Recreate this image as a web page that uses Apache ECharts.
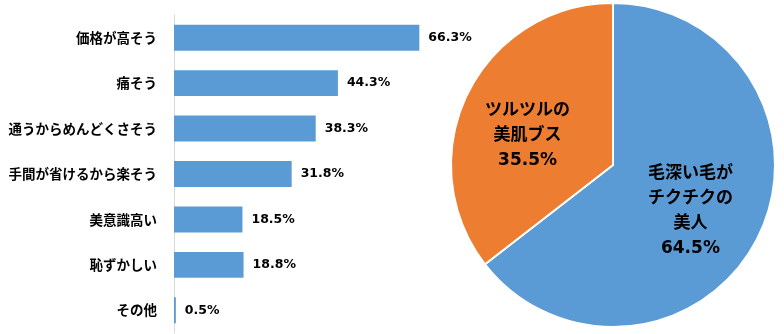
<!DOCTYPE html>
<html><head><meta charset="utf-8">
<script src="https://cdn.jsdelivr.net/npm/echarts@6/dist/echarts.min.js"></script>
<style>html,body{margin:0;padding:0;background:#fff}#c{width:784px;height:334px}</style>
</head><body><div id="c"></div>
<script>
const barCategories = ['価格が高そう','痛そう','通うからめんどくさそう','手間が省けるから楽そう','美意識高い','恥ずかしい','その他'];
const barValues = [66.3, 44.3, 38.3, 31.8, 18.5, 18.8, 0.5];
const pieNames = ['毛深い毛が\nチクチクの\n美人', 'ツルツルの\n美肌ブス'];
const pieValues = [64.5, 35.5];
const pieColors = ['#5b9bd5', '#ed7d31'];
const pieLabelOffsets = [[2, 9], [-10, 8]];

const chart = echarts.init(document.getElementById('c'));
chart.setOption({
  animation: false,
  grid: {left: 174, top: 15, width: 259, height: 318},
  xAxis: {type: 'value', min: 0, max: 70, show: false},
  yAxis: {
    type: 'category', data: barCategories, inverse: true,
    axisLine: {show: true, lineStyle: {color: '#d9d9d9', width: 1}},
    axisTick: {show: false},
    axisLabel: {margin: 17, color: '#000', fontSize: 13.5, fontFamily: 'Noto Sans CJK JP', fontWeight: 'bold'}
  },
  series: [{
    type: 'bar', data: barValues, barCategoryGap: '43%',
    itemStyle: {color: '#5b9bd5'},
    label: {show: true, position: 'right', distance: 9, color: '#000', fontSize: 12.5, fontFamily: 'DejaVu Sans', fontWeight: 'bold',
      formatter: p => p.value.toFixed(1) + '%'}
  }, {
    type: 'pie', center: [613, 165], radius: 162, startAngle: 90, clockwise: true,
    data: pieNames.map((n, i) => ({name: n, value: pieValues[i], itemStyle: {color: pieColors[i]},
      label: {offset: pieLabelOffsets[i]}})),
    itemStyle: {borderColor: '#fff', borderWidth: 2},
    label: {show: true, position: 'inside', color: '#000', fontSize: 17, fontWeight: 'bold', fontFamily: 'DejaVu Sans, Noto Sans CJK JP', lineHeight: 25,
      formatter: p => p.name + '\n' + p.value.toFixed(1) + '%'},
    labelLine: {show: false}
  }]
});
</script></body></html>
